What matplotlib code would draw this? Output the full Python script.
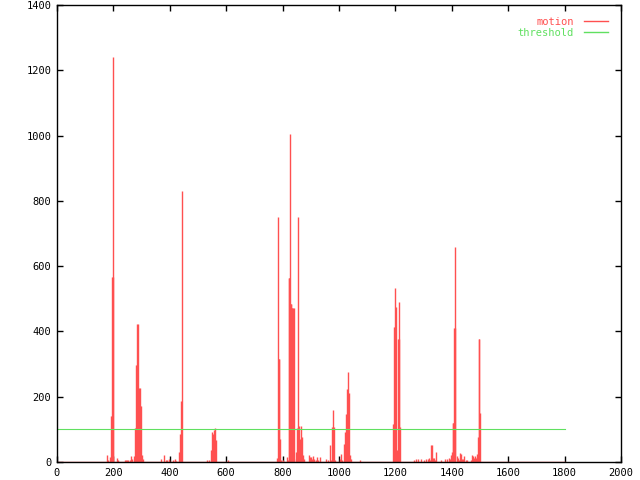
import matplotlib
matplotlib.use("Agg")
import matplotlib.pyplot as plt
from matplotlib.lines import Line2D

# motion spikes (frame, value); every other frame is 0
frames = [178, 182, 189, 192, 194, 196, 198, 200, 214, 217, 240, 244, 248,
          252, 258, 264, 267, 273, 277, 279, 281, 283, 285, 287, 289, 292, 294,
          296, 298, 300, 305,
          370, 379, 385, 390, 397, 412, 418, 420, 421, 433, 436, 440, 443,
          533, 538, 545, 548, 552, 556, 559, 563, 606,
          780, 785, 787, 789, 791, 795, 800, 815, 820, 822, 824, 826, 829, 831,
          833, 835, 838, 840, 842, 847, 851, 855, 858, 862, 865, 869, 872, 876,
          894, 897, 901, 903, 908, 910, 912, 918, 922, 925, 933, 954, 960,
          968, 972, 975, 979, 982, 986, 1004, 1007, 1011, 1018, 1021, 1025,
          1028, 1032, 1035, 1039, 1043, 1075,
          1191, 1194, 1196, 1198, 1200, 1203, 1206, 1209, 1211, 1213, 1216, 1266,
          1272, 1280, 1290, 1300, 1308,
          1316, 1319, 1323, 1327, 1329, 1333, 1336, 1340, 1344, 1362, 1376, 1383,
          1390, 1394, 1397, 1401, 1404, 1406, 1408, 1410, 1411, 1418, 1422, 1425,
          1429, 1433, 1436, 1440, 1443, 1450, 1454, 1468, 1472, 1475, 1479,
          1482, 1486, 1489, 1493, 1496, 1498, 1500]
motion = [20, 5, 15, 141, 141, 567, 567, 1240, 12, 5, 5, 5, 5,
          5, 5, 18, 8, 18, 105, 105, 297, 297, 424, 424, 20, 228, 228,
          172, 172, 22, 8,
          10, 20, 5, 5, 8, 5, 10, 7, 4, 30, 86, 187, 830,
          5, 5, 37, 92, 86, 98, 104, 67, 5,
          12, 750, 316, 316, 70, 5, 5, 15, 5, 564, 564, 1005, 484, 484,
          472, 472, 472, 472, 8, 30, 104, 750, 110, 70, 110, 77, 20, 10,
          20, 15, 15, 10, 18, 8, 5, 5, 15, 5, 15, 10, 5,
          52, 5, 108, 160, 108, 5, 8, 25, 5, 55, 93, 147,
          223, 276, 211, 20, 8, 5,
          116, 116, 413, 413, 533, 475, 37, 377, 377, 490, 108, 5,
          10, 8, 10, 5, 8,
          10, 13, 5, 52, 52, 13, 13, 5, 31, 5, 8, 10,
          13, 8, 22, 31, 120, 120, 411, 411, 659, 19, 13, 5,
          28, 25, 8, 8, 19, 5, 5, 5, 22, 19, 13,
          19, 13, 25, 77, 377, 377, 151]
n_frames = 1800
threshold = 100

red = "#ff5050"
green = "#60e060"

plt.rcParams["font.family"] = "DejaVu Sans Mono"
plt.rcParams["font.size"] = 7.5

fig = plt.figure(figsize=(6.4, 4.8), dpi=100)
ax = fig.add_axes([57 / 640, 18 / 480, 564 / 640, 457 / 480])

ax.vlines(frames, 0, motion, color=red, linewidth=1.0)
ax.plot([0, n_frames], [0, 0], color=red, linewidth=1.0)
ax.plot([0, n_frames], [threshold, threshold], color=green, linewidth=0.8)

ax.set_xlim(0, 2000)
ax.set_ylim(0, 1400)
ax.set_xticks(range(0, 2001, 200))
ax.set_yticks(range(0, 1401, 200))
ax.tick_params(direction="in", length=4, width=1, top=True, right=True, pad=4)
for s in ax.spines.values():
    s.set_linewidth(1)

handles = [Line2D([], [], color=red, lw=1), Line2D([], [], color=green, lw=1)]
leg = ax.legend(handles, ["motion", "threshold"], loc="upper right",
                bbox_to_anchor=(0.99, 0.99), frameon=False, markerfirst=False,
                handlelength=2.3, handletextpad=1.0, labelspacing=0.1,
                fontsize=7.5, borderpad=0.2)
for t, c in zip(leg.get_texts(), [red, green]):
    t.set_color(c)

fig.savefig("out.png", dpi=100)
